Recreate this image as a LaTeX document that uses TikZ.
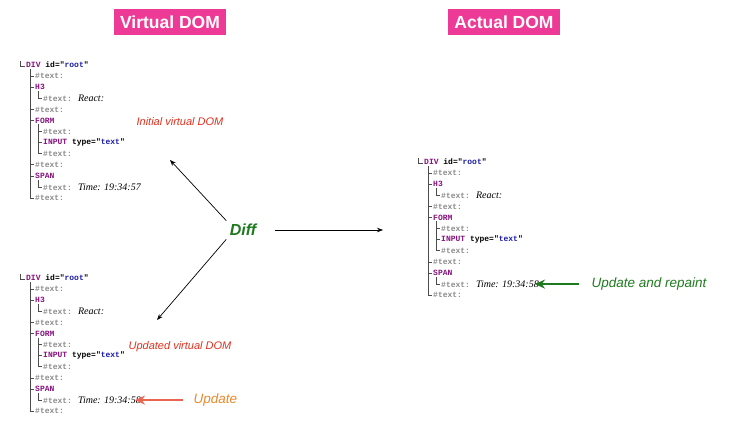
\documentclass[tikz,border=0pt]{standalone}
\usepackage{fontspec}
\setmainfont{Liberation Serif}
\setsansfont{Liberation Sans}
\newfontfamily\codefont{Liberation Mono}
\usetikzlibrary{arrows.meta,positioning}

\definecolor{titlepink}{HTML}{EE3A97}
\definecolor{tagpurple}{HTML}{881280}
\definecolor{attrblue}{HTML}{1A1AA6}
\definecolor{textgrey}{HTML}{8A8A8A}
\definecolor{notered}{HTML}{E0301E}
\definecolor{updorange}{HTML}{E8892B}
\definecolor{arrowred}{HTML}{EA6450}
\definecolor{diffgreen}{HTML}{1E7A1E}

\newcommand{\tagname}[1]{\textcolor{tagpurple}{#1}}
\newcommand{\attrval}[1]{"\textcolor{attrblue}{#1}"}
\newcommand{\hashtext}{\textcolor{textgrey}{\#text:}}
\newcommand{\serifit}[1]{{\rmfamily\mdseries\itshape\fontsize{10}{12}\selectfont #1}}
\newcommand{\rowh}{11.1}

% one DOM tree: #1 name, #2 x, #3 y, #4 time shown
\newcommand{\domtree}[4]{%
  \begin{scope}[shift={(#2,#3)}]
    % tree lines
    \draw[treeline] (0,-4) |- (5,1);
    \draw[treeline] (10,4) |- (14,12*\rowh);
    \foreach \k in {1,2,4,5,9,10}
      \draw[treeline] (10,\k*\rowh) -- (14,\k*\rowh);
    \draw[treeline] (18,2*\rowh+4) |- (22,3*\rowh);
    \draw[treeline] (18,5*\rowh+4) |- (22,8*\rowh);
    \foreach \k in {6,7}
      \draw[treeline] (18,\k*\rowh) -- (22,\k*\rowh);
    \draw[treeline] (18,10*\rowh+4) |- (22,11*\rowh);
    % rows
    \node[row] (#1-div)   at (6,0)         {\tagname{DIV} id=\attrval{root}};
    \node[row] (#1-t1)    at (15,1*\rowh)  {\hashtext};
    \node[row] (#1-h3)    at (15,2*\rowh)  {\tagname{H3}};
    \node[row] (#1-react) at (23,3*\rowh)  {\hashtext\hspace{6pt}\serifit{React:}};
    \node[row] (#1-t2)    at (15,4*\rowh)  {\hashtext};
    \node[row] (#1-form)  at (15,5*\rowh)  {\tagname{FORM}};
    \node[row] (#1-t3)    at (23,6*\rowh)  {\hashtext};
    \node[row] (#1-input) at (23,7*\rowh)  {\tagname{INPUT} type=\attrval{text}};
    \node[row] (#1-t4)    at (23,8*\rowh)  {\hashtext};
    \node[row] (#1-t5)    at (15,9*\rowh)  {\hashtext};
    \node[row] (#1-span)  at (15,10*\rowh) {\tagname{SPAN}};
    \node[row] (#1-time)  at (23,11*\rowh) {\hashtext\hspace{6pt}\serifit{Time: #4}};
    \node[row] (#1-t6)    at (15,12*\rowh) {\hashtext};
  \end{scope}}

\begin{document}
\begin{tikzpicture}[
  x=1pt, y=-1pt,
  title/.style={fill=titlepink, text=white, inner sep=2pt,
                minimum width=112pt, minimum height=26pt,
                font=\sffamily\bfseries\fontsize{17.5}{20}\selectfont},
  note/.style={text=notered, font=\sffamily\itshape\fontsize{11}{13}\selectfont},
  callout/.style={font=\sffamily\itshape\fontsize{13.5}{16}\selectfont},
  row/.style={anchor=west, inner sep=0pt,
              font=\codefont\bfseries\fontsize{8}{9}\selectfont},
  treeline/.style={draw=black!70, line width=0.8pt},
  link/.style={-{Stealth[length=6pt,width=4.5pt]}, line width=0.7pt},
  pointer/.style={-{Stealth[length=10pt,width=9pt]}, line width=2.2pt},
]
  \useasboundingbox (0,0) rectangle (730,430);

  % Titles
  \node[title] (vtitle) at (170,22) {Virtual DOM};
  \node[title] (atitle) at (504,22) {Actual DOM};

  % Trees
  \domtree{init}{20}{65}{19:34:57}
  \domtree{upd}{20}{278}{19:34:58}
  \domtree{act}{418}{162}{19:34:58}

  % Notes
  \node[note] (initnote) at (180,122) {Initial virtual DOM};
  \node[note] (updnote) at (180,347) {Updated virtual DOM};

  % Diff
  \node[text=diffgreen, font=\sffamily\bfseries\itshape\fontsize{16}{19}\selectfont]
    (diff) at (243,230) {Diff};
  \coordinate (initTip) at (170,160);
  \coordinate (updTip) at (157,320);
  \coordinate (actTip) at (383,230);

  \draw[link] (diff.north west) -- (initTip);
  \draw[link] (diff.south west) -- (updTip);
  \draw[link, shorten <=15pt] (diff.east) -- (actTip);

  % Updates
  \node[callout, text=updorange, right=49pt of upd-time] (update) {Update};
  \node[callout, text=diffgreen, right=49pt of act-time] (repaint) {Update and repaint};

  \draw[pointer, draw=arrowred] ([xshift=-7pt]update.west) -- ([xshift=-6pt]upd-time.east);
  \draw[pointer, draw=diffgreen] ([xshift=-9pt]repaint.west) -- ([xshift=-4pt]act-time.east);

\end{tikzpicture}
\end{document}
